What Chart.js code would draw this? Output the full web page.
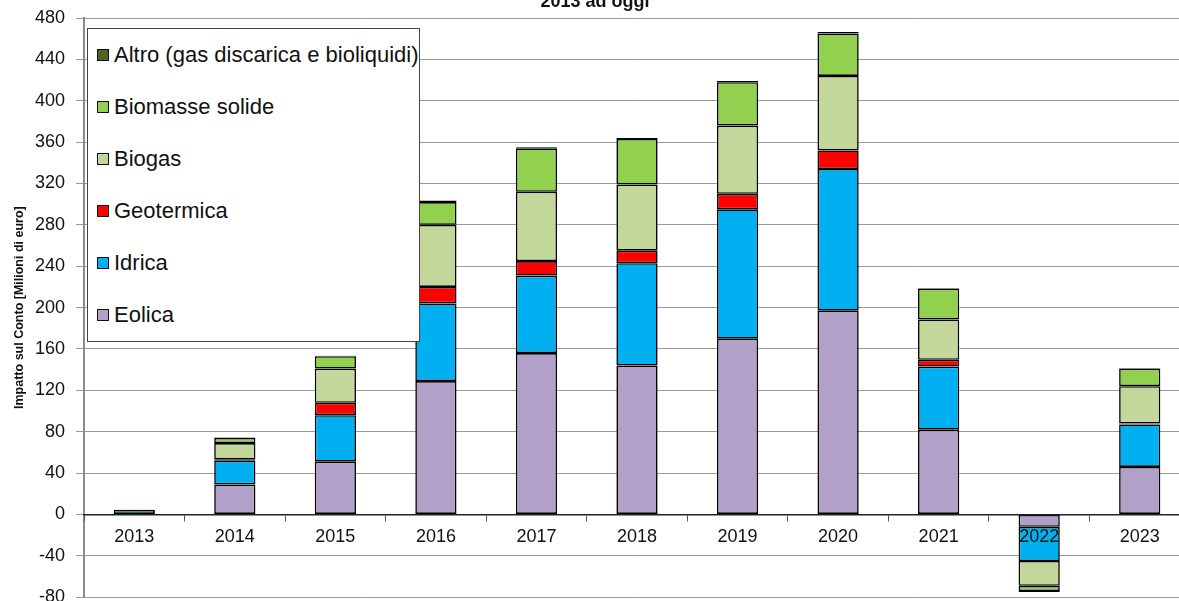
<!DOCTYPE html>
<html>
<head>
<meta charset="utf-8">
<script src="https://cdn.jsdelivr.net/npm/chart.js@4/dist/chart.umd.min.js"></script>
<style>
  html, body { margin: 0; padding: 0; background: #fff; overflow: hidden; width: 1179px; height: 601px; }
  #wrap { position: absolute; left: 0; top: -14px; width: 1236px; height: 633px; }
  #legend {
    position: absolute; left: 87px; top: 28px; width: 331px; height: 312px;
    border: 1px solid #444; background: #fff;
    font-family: "Liberation Sans", Arial, sans-serif; font-size: 22px; color: #111;
  }
  .item { height: 52px; display: flex; align-items: center; padding-left: 9px; }
  .sw { width: 10px; height: 10px; border: 1.5px solid #111; margin-right: 5px; }
</style>
</head>
<body>
<div id="wrap"><canvas id="chart"></canvas></div>
<div id="legend"></div>
<script>
const years = ['2013', '2014', '2015', '2016', '2017', '2018', '2019', '2020', '2021', '2022', '2023'];
const eolica     = [0.5, 29, 51, 129, 156, 144, 170, 197, 82, -12, 46];
const idrica     = [4, 23, 45, 75, 75, 99, 125, 137, 61, -33, 41];
const geotermica = [0, 1, 12, 16, 14, 12, 15, 18, 6.5, 0, 1];
const biogas     = [0, 16, 33, 60, 67, 64, 66, 72, 39, -24, 36];
const biomasse   = [0, 5, 12, 22, 42, 44, 42, 41, 30, -5, 17];
const altro      = [0, 0.5, 0.5, 1.5, 1, 1, 1, 1.5, 0.5, -1, 0.5];
const yTicks = [-80, -40, 0, 40, 80, 120, 160, 200, 240, 280, 320, 360, 400, 440, 480];

const font = '"Liberation Sans", Arial, sans-serif';

function ds(label, data, color) {
  return {
    label: label, data: data, backgroundColor: color,
    borderColor: '#000', borderWidth: 1.6, borderSkipped: false,
    barPercentage: 0.41, categoryPercentage: 1
  };
}

const datasets = [
  ds('Eolica', eolica, '#b1a0c7'),
  ds('Idrica', idrica, '#00b0f0'),
  ds('Geotermica', geotermica, '#ff0000'),
  ds('Biogas', biogas, '#c4d79b'),
  ds('Biomasse solide', biomasse, '#92d050'),
  ds('Altro (gas discarica e bioliquidi)', altro, '#4f6228')
];

new Chart(document.getElementById('chart'), {
  type: 'bar',
  data: { labels: years, datasets: datasets },
  options: {
    responsive: true,
    maintainAspectRatio: false,
    animation: false,
    layout: { padding: { left: 0, right: 46, top: 0, bottom: 0 } },
    plugins: {
      legend: { display: false },
      tooltip: { enabled: false },
      title: {
        display: true,
        text: '2013 ad oggi',
        color: '#111',
        font: { family: font, size: 18, weight: 'bold' },
        padding: { top: 5, bottom: 5.4 }
      }
    },
    scales: {
      x: {
        stacked: true,
        position: { y: 0 },
        grid: { display: true, drawOnChartArea: false, drawTicks: true, tickLength: 6, offset: true, color: '#555', z: 1 },
        border: { display: true, color: '#222', width: 1.5, z: 1 },
        ticks: { color: '#111', font: { family: font, size: 18 }, padding: 6, maxRotation: 0, z: 1 }
      },
      y: {
        stacked: true,
        min: -80, max: 480,
        afterFit: function (scale) { scale.width = 84; },
        afterBuildTicks: function (scale) { scale.ticks = yTicks.map(v => ({ value: v })); },
        grid: { color: '#9a9a9a', lineWidth: 1, tickLength: 8 },
        border: { color: '#8a8a8a', width: 2 },
        ticks: { color: '#111', font: { family: font, size: 18 }, padding: 11 },
        title: {
          display: true,
          text: 'Impatto sul Conto [Milioni di euro]',
          color: '#111',
          font: { family: font, size: 12.5, weight: 'bold' },
          padding: { top: 12, bottom: 0 }
        }
      }
    }
  }
});

const legend = document.getElementById('legend');
datasets.slice().reverse().forEach(function (d) {
  const item = document.createElement('div');
  item.className = 'item';
  item.innerHTML = '<span class="sw" style="background:' + d.backgroundColor + '"></span><span>' + d.label + '</span>';
  legend.appendChild(item);
});
</script>
</body>
</html>
